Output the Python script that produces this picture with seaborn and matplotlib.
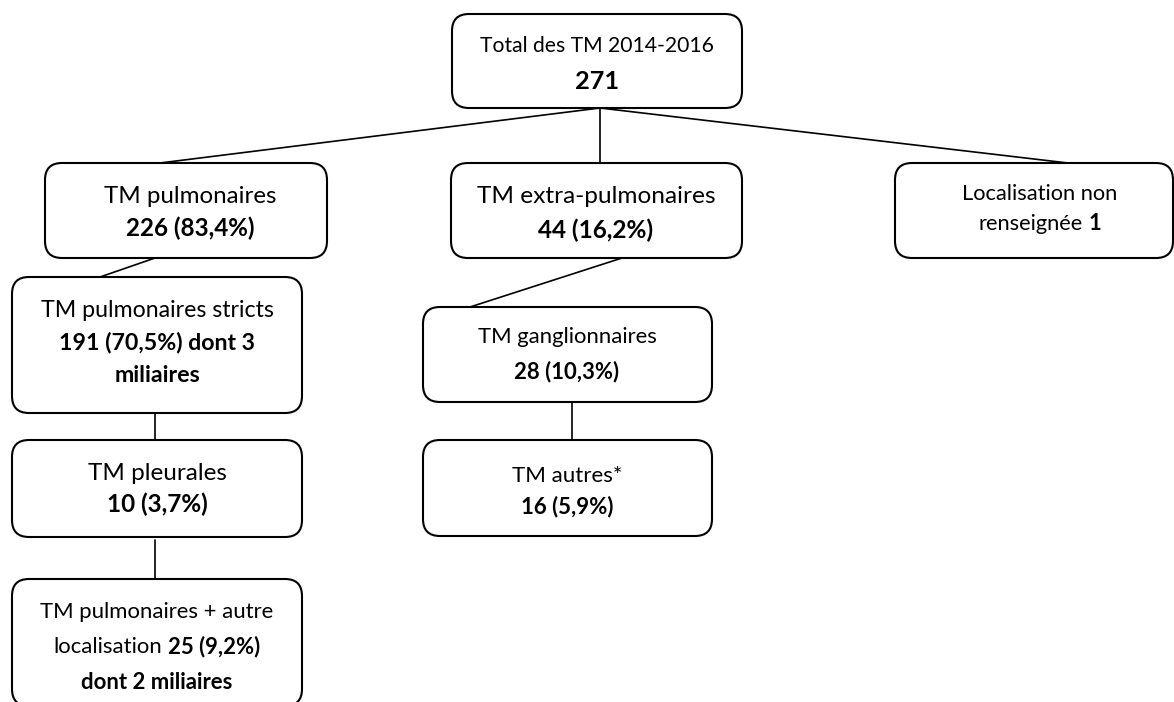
import matplotlib
matplotlib.use("Agg")
import matplotlib.pyplot as plt
import seaborn as sns
from matplotlib.patches import FancyBboxPatch

# data
node_names = ["Total des TM 2014-2016", "TM pulmonaires", "TM extra-pulmonaires",
              "Localisation non renseignée", "TM pulmonaires stricts", "TM pleurales",
              "TM pulmonaires + autre localisation", "TM ganglionnaires", "TM autres*"]
node_counts = [271, 226, 44, 1, 191, 10, 25, 28, 16]
node_pcts = ["", "83,4", "16,2", "", "70,5", "3,7", "9,2", "10,3", "5,9"]
node_notes = ["", "", "", "", "dont 3 miliaires", "", "dont 2 miliaires", "", ""]
edges = [(0, 1), (0, 2), (0, 3), (1, 4), (4, 5), (5, 6), (2, 7), (7, 8)]


def num(i):
    s = str(node_counts[i])
    if node_pcts[i]:
        s += " (" + node_pcts[i] + "%)"
    return s


# text lines of each node: list of lines, each line = list of (text, bold)
node_lines = [
    [[(node_names[0], False)], [(num(0), True)]],
    [[(node_names[1], False)], [(num(1), True)]],
    [[(node_names[2], False)], [(num(2), True)]],
    [[("Localisation non", False)], [("renseignée", False), (num(3), True)]],
    [[(node_names[4], False)], [(num(4) + " dont 3", True)], [("miliaires", True)]],
    [[(node_names[5], False)], [(num(5), True)]],
    [[("TM pulmonaires + autre", False)], [("localisation", False), (num(6), True)],
     [(node_notes[6], True)]],
    [[(node_names[7], False)], [(num(7), True)]],
    [[(node_names[8], False)], [(num(8), True)]],
]

# layout (pixels, y downwards)
boxes = [(452, 14, 742, 108), (45, 163, 327, 258), (451, 163, 742, 258),
         (895, 163, 1173, 258), (12, 277, 302, 413), (12, 440, 302, 537),
         (12, 579, 302, 706), (423, 307, 712, 402), (423, 440, 712, 536)]
text_x = [597, 190, 596, 1040, 157, 157, 157, 567, 567]
baselines = [[52, 89], [203, 236], [203, 238], [200, 230], [317, 349, 382],
             [480, 512], [618, 653, 689], [343, 378], [482, 513]]
first_width = [235, 173, 238, 156, 233, 139, 233, 179, 110]
line_scale = {(0, 1): 1.2}
edge_pts = [((600, 108), (160, 163)), ((600, 108), (600, 163)), ((600, 108), (1068, 163)),
            ((155, 258), (100, 277)), ((155, 413), (155, 440)), ((155, 540), (155, 578)),
            ((622, 258), (470, 307)), ((572, 402), (572, 440))]

sns.set_theme(style="white")
plt.rcParams["font.family"] = ["Lato", "DejaVu Sans"]

fig = plt.figure(figsize=(11.74, 7.02), dpi=100)
ax = fig.add_axes([0, 0, 1, 1])
ax.set_xlim(0, 1174)
ax.set_ylim(702, 0)
ax.axis("off")
renderer = fig.canvas.get_renderer()


def text_width(s, size, bold):
    t = ax.text(0, 0, s, fontsize=size, fontweight="bold" if bold else "normal")
    w = t.get_window_extent(renderer).width
    t.remove()
    return w


for (a, b) in edge_pts:
    ax.plot([a[0], b[0]], [a[1], b[1]], color="black", lw=1.2, zorder=1)

for i, (x0, y0, x1, y1) in enumerate(boxes):
    ax.add_patch(FancyBboxPatch((x0, y0), x1 - x0, y1 - y0,
                                boxstyle="round,pad=0,rounding_size=17",
                                fc="white", ec="black", lw=1.5, zorder=2))
    first = "".join(p[0] for p in node_lines[i][0])
    size = 10 * first_width[i] / text_width(first, 10, node_lines[i][0][0][1])
    for j, parts in enumerate(node_lines[i]):
        fs = size * line_scale.get((i, j), 1.0)
        space = text_width("a a", fs, False) - text_width("aa", fs, False)
        widths = [text_width(p[0], fs, p[1]) for p in parts]
        total = sum(widths) + space * (len(parts) - 1)
        x = text_x[i] - total / 2
        for (s, bold), w in zip(parts, widths):
            ax.text(x, baselines[i][j], s, fontsize=fs, ha="left", va="baseline",
                    fontweight="bold" if bold else "normal", color="black", zorder=3)
            x += w + space

fig.savefig("out.png", dpi=100)
